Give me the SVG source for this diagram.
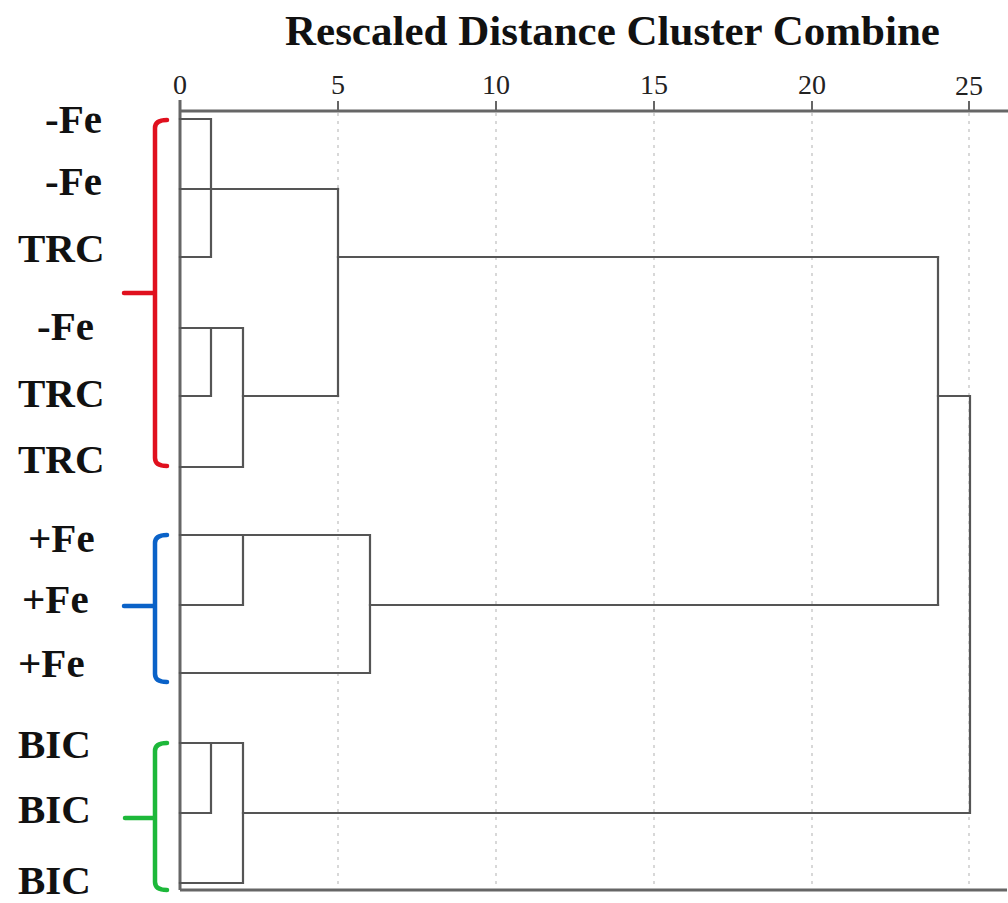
<svg xmlns="http://www.w3.org/2000/svg" width="1008" height="903" viewBox="0 0 1008 903">
<style>
.lbl{font-family:"Liberation Serif","Times New Roman",serif;font-weight:bold;font-size:41px;fill:#111}
.title{font-family:"Liberation Serif","Times New Roman",serif;font-weight:bold;font-size:43px;fill:#111}
.tick{font-family:"Liberation Serif","Times New Roman",serif;font-size:28px;fill:#222;text-anchor:middle}
.ln{stroke:#555;stroke-width:2.2;fill:none;stroke-linecap:square}
.grid{stroke:#ccc;stroke-width:1.5;stroke-dasharray:3 5;fill:none}
.axis{stroke:#666;stroke-width:3;fill:none}
.br{fill:none;stroke-width:4.5;stroke-linecap:round;stroke-linejoin:round}
</style>
<rect width="1008" height="903" fill="#fff"/>
<text class="title" x="285" y="45">Rescaled Distance Cluster Combine</text>
<g id="axis">
<g class="grid">
<line x1="338" y1="113" x2="338" y2="888"/>
<line x1="496" y1="113" x2="496" y2="888"/>
<line x1="654" y1="113" x2="654" y2="888"/>
<line x1="812" y1="113" x2="812" y2="888"/>
<line x1="969" y1="113" x2="969" y2="888"/>
</g>
<line class="axis" x1="180" y1="111" x2="1008" y2="111"/>
<line class="axis" x1="180" y1="890" x2="1007" y2="890"/>
<line class="axis" x1="180" y1="100" x2="180" y2="890"/>
<g stroke="#666" stroke-width="2">
<line x1="338" y1="101" x2="338" y2="111"/>
<line x1="496" y1="101" x2="496" y2="111"/>
<line x1="654" y1="101" x2="654" y2="111"/>
<line x1="812" y1="101" x2="812" y2="111"/>
<line x1="969" y1="101" x2="969" y2="111"/>
</g>
<text class="tick" x="180" y="94">0</text>
<text class="tick" x="338" y="94">5</text>
<text class="tick" x="496" y="94">10</text>
<text class="tick" x="654" y="94">15</text>
<text class="tick" x="812" y="94">20</text>
<text class="tick" x="969" y="95">25</text>
</g>
<g id="labels">
<text id="leaf1" class="lbl" x="45" y="133">-Fe</text>
<text id="leaf2" class="lbl" x="45" y="195">-Fe</text>
<text id="leaf3" class="lbl" x="18" y="262">TRC</text>
<text id="leaf4" class="lbl" x="37" y="340">-Fe</text>
<text id="leaf5" class="lbl" x="18" y="407">TRC</text>
<text id="leaf6" class="lbl" x="18" y="473">TRC</text>
<text id="leaf7" class="lbl" x="28" y="552">+Fe</text>
<text id="leaf8" class="lbl" x="22" y="613">+Fe</text>
<text id="leaf9" class="lbl" x="18" y="677">+Fe</text>
<text id="leaf10" class="lbl" x="18" y="758">BIC</text>
<text id="leaf11" class="lbl" x="18" y="823">BIC</text>
<text id="leaf12" class="lbl" x="18" y="894">BIC</text>
</g>
<g id="brackets">
<path id="bracket-red" class="br" stroke="#e0101e" d="M167 120 Q155 120 155 128 L155 458 Q155 466 167 466 M155 293 L124 293"/>
<path id="bracket-blue" class="br" stroke="#0a62c8" d="M167 535 Q155 535 155 543 L155 674 Q155 682 167 682 M155 606 L124 606"/>
<path id="bracket-green" class="br" stroke="#1db83a" d="M167 743 Q155 743 155 751 L155 882 Q155 890 167 890 M155 818 L125 818"/>
</g>
<g id="connectors" class="ln">
<polyline points="180,119 211,119 211,257 180,257"/>
<line x1="180" y1="189" x2="338" y2="189"/>
<polyline points="180,328 243,328 243,467 180,467"/>
<polyline points="180,396 211,396 211,328"/>
<line x1="243" y1="396" x2="338" y2="396"/>
<line x1="338" y1="189" x2="338" y2="396"/>
<line x1="338" y1="257" x2="938" y2="257"/>
<polyline points="180,535 370,535 370,673 180,673"/>
<polyline points="180,605 243,605 243,535"/>
<line x1="370" y1="605" x2="938" y2="605"/>
<line x1="938" y1="257" x2="938" y2="605"/>
<polyline points="938,396 970,396 970,813 243,813"/>
<polyline points="180,743 243,743 243,883 180,883"/>
<polyline points="180,813 211,813 211,743"/>
</g>
</svg>
